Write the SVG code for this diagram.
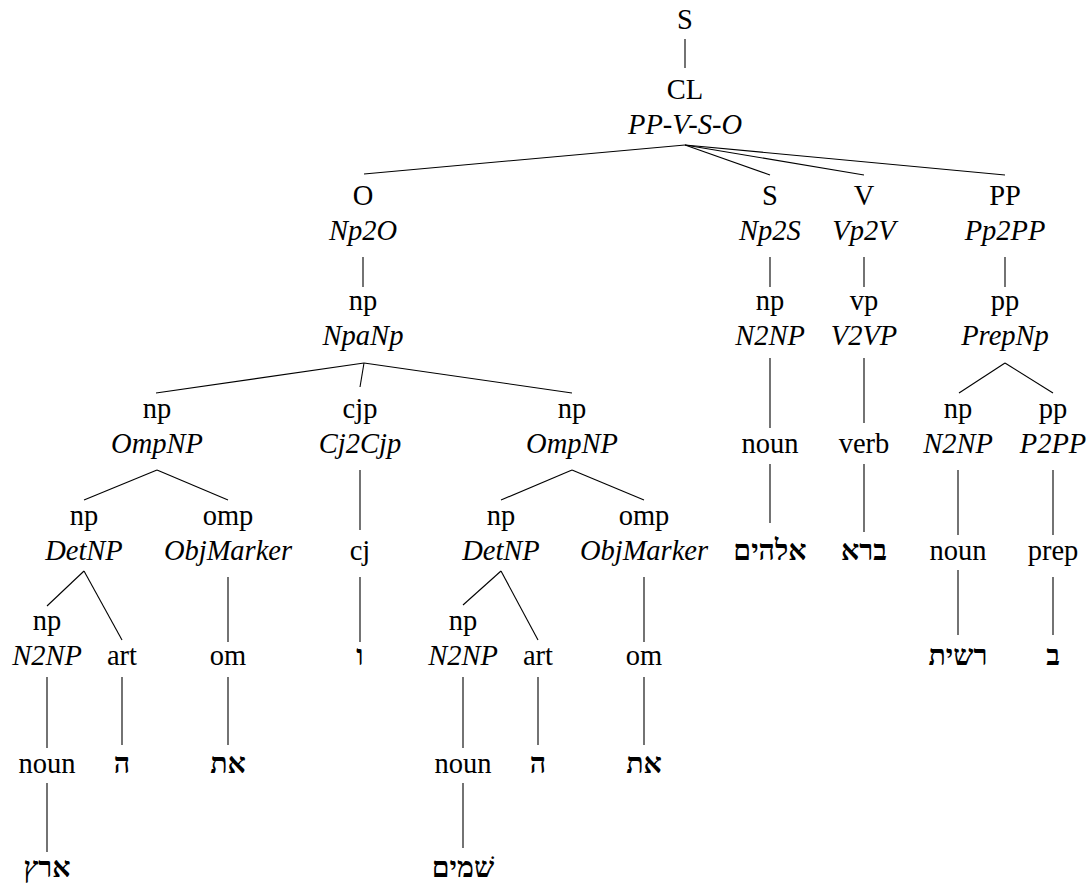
<svg xmlns="http://www.w3.org/2000/svg" width="1092" height="889" viewBox="0 0 1092 889">
<style>
.t text{font-size:28.5px;fill:#000;text-anchor:middle}
.i{font-style:italic}
.h{font-weight:bold}
#edges line{stroke:#000;stroke-width:1.1;fill:none}
</style>
<rect width="1092" height="889" fill="#fff"/>
<g id="edges">
<line x1="685" y1="39" x2="685" y2="68"/>
<line x1="685" y1="145" x2="364" y2="174"/>
<line x1="685" y1="145" x2="770" y2="175"/>
<line x1="685" y1="145" x2="864" y2="175"/>
<line x1="685" y1="145" x2="1005" y2="175"/>
<line x1="363" y1="257" x2="363" y2="287"/>
<line x1="770" y1="257" x2="770" y2="287"/>
<line x1="864" y1="257" x2="864" y2="287"/>
<line x1="1005" y1="257" x2="1005" y2="287"/>
<line x1="364" y1="363" x2="156" y2="393"/>
<line x1="364" y1="363" x2="360" y2="387"/>
<line x1="364" y1="363" x2="572" y2="393"/>
<line x1="1005" y1="363" x2="959" y2="393"/>
<line x1="1005" y1="363" x2="1053" y2="393"/>
<line x1="770" y1="358" x2="770" y2="428"/>
<line x1="864" y1="358" x2="864" y2="423"/>
<line x1="770" y1="464" x2="770" y2="523"/>
<line x1="864" y1="464" x2="864" y2="532"/>
<line x1="958" y1="470" x2="958" y2="535"/>
<line x1="1053" y1="470" x2="1053" y2="535"/>
<line x1="958" y1="570" x2="958" y2="635"/>
<line x1="1053" y1="577" x2="1053" y2="635"/>
<line x1="157" y1="470" x2="84" y2="500"/>
<line x1="157" y1="470" x2="228" y2="500"/>
<line x1="360" y1="470" x2="360" y2="530"/>
<line x1="572" y1="470" x2="501" y2="500"/>
<line x1="572" y1="470" x2="644" y2="500"/>
<line x1="84" y1="571" x2="47" y2="606"/>
<line x1="84" y1="571" x2="122" y2="640"/>
<line x1="228" y1="577" x2="228" y2="642"/>
<line x1="360" y1="577" x2="360" y2="642"/>
<line x1="501" y1="571" x2="463" y2="605"/>
<line x1="501" y1="571" x2="538" y2="640"/>
<line x1="644" y1="577" x2="644" y2="642"/>
<line x1="47" y1="677" x2="47" y2="748"/>
<line x1="122" y1="677" x2="122" y2="745"/>
<line x1="228" y1="677" x2="228" y2="745"/>
<line x1="463" y1="677" x2="463" y2="748"/>
<line x1="538" y1="677" x2="538" y2="745"/>
<line x1="644" y1="677" x2="644" y2="745"/>
<line x1="47" y1="783" x2="47" y2="852"/>
<line x1="463" y1="783" x2="463" y2="848"/>
</g>
<g class="t" font-family="Liberation Serif, DejaVu Serif, serif">
<g id="n-S"><text x="685" y="29">S</text></g>
<g id="n-CL"><text x="685" y="99">CL</text><text class="i" x="685" y="134">PP-V-S-O</text></g>
<g id="n-O"><text x="363" y="205">O</text><text class="i" x="363" y="240">Np2O</text></g>
<g id="n-Subj"><text x="770" y="205">S</text><text class="i" x="770" y="240">Np2S</text></g>
<g id="n-V"><text x="864" y="205">V</text><text class="i" x="864" y="240">Vp2V</text></g>
<g id="n-PP"><text x="1005" y="205">PP</text><text class="i" x="1005" y="240">Pp2PP</text></g>
<g id="n-np-O"><text x="363" y="310">np</text><text class="i" x="363" y="345">NpaNp</text></g>
<g id="n-np-S"><text x="770" y="310">np</text><text class="i" x="770" y="345">N2NP</text></g>
<g id="n-vp"><text x="864" y="310">vp</text><text class="i" x="864" y="345">V2VP</text></g>
<g id="n-pp"><text x="1005" y="310">pp</text><text class="i" x="1005" y="345">PrepNp</text></g>
<g id="n-np-L"><text x="157" y="418">np</text><text class="i" x="157" y="453">OmpNP</text></g>
<g id="n-cjp"><text x="360" y="418">cjp</text><text class="i" x="360" y="453">Cj2Cjp</text></g>
<g id="n-np-R"><text x="572" y="418">np</text><text class="i" x="572" y="453">OmpNP</text></g>
<g id="n-noun-S"><text x="770" y="453">noun</text></g>
<g id="n-verb"><text x="864" y="453">verb</text></g>
<g id="n-np-PP"><text x="958" y="418">np</text><text class="i" x="958" y="453">N2NP</text></g>
<g id="n-pp-PP"><text x="1053" y="418">pp</text><text class="i" x="1053" y="453">P2PP</text></g>
<g id="n-np-LD"><text x="84" y="525">np</text><text class="i" x="84" y="560">DetNP</text></g>
<g id="n-omp-L"><text x="228" y="525">omp</text><text class="i" x="228" y="560">ObjMarker</text></g>
<g id="n-cj"><text x="360" y="560">cj</text></g>
<g id="n-np-RD"><text x="501" y="525">np</text><text class="i" x="501" y="560">DetNP</text></g>
<g id="n-omp-R"><text x="644" y="525">omp</text><text class="i" x="644" y="560">ObjMarker</text></g>
<g id="n-elohim"><text class="h" x="770" y="560">אלהים</text></g>
<g id="n-bara"><text class="h" x="864" y="560">ברא</text></g>
<g id="n-noun-PP"><text x="958" y="560">noun</text></g>
<g id="n-prep"><text x="1053" y="560">prep</text></g>
<g id="n-np-LN"><text x="47" y="630">np</text><text class="i" x="47" y="665">N2NP</text></g>
<g id="n-art-L"><text x="122" y="665">art</text></g>
<g id="n-om-L"><text x="228" y="665">om</text></g>
<g id="n-vav"><text class="h" x="360" y="665">ו</text></g>
<g id="n-np-RN"><text x="463" y="630">np</text><text class="i" x="463" y="665">N2NP</text></g>
<g id="n-art-R"><text x="538" y="665">art</text></g>
<g id="n-om-R"><text x="644" y="665">om</text></g>
<g id="n-reshit"><text class="h" x="958" y="665">רשית</text></g>
<g id="n-be"><text class="h" x="1053" y="665">ב</text></g>
<g id="n-noun-L"><text x="47" y="773">noun</text></g>
<g id="n-ha-L"><text class="h" x="122" y="773">ה</text></g>
<g id="n-et-L"><text class="h" x="228" y="773">את</text></g>
<g id="n-noun-R"><text x="463" y="773">noun</text></g>
<g id="n-ha-R"><text class="h" x="538" y="773">ה</text></g>
<g id="n-et-R"><text class="h" x="644" y="773">את</text></g>
<g id="n-erets"><text class="h" x="47" y="877">ארץ</text></g>
<g id="n-shamayim"><text class="h" x="463" y="877">שׁמים</text></g>
</g>
</svg>
